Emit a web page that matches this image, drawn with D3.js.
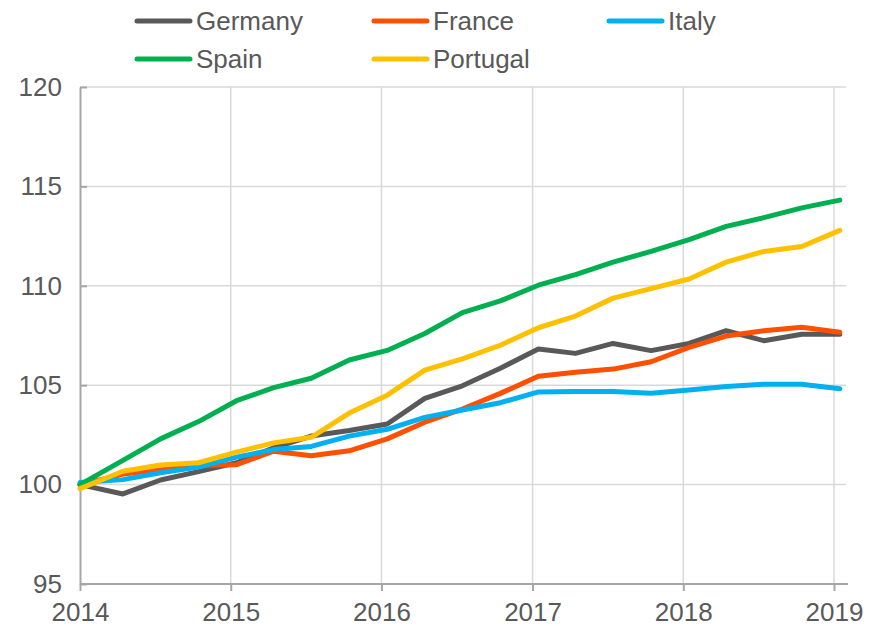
<!DOCTYPE html>
<html><head><meta charset="utf-8">
<script src="https://cdn.jsdelivr.net/npm/d3@7"></script>
<style>
html,body{margin:0;padding:0;background:#fff;}
svg{display:block;font-family:"Liberation Sans",Arial,sans-serif;}
</style></head>
<body><svg id="c" width="873" height="626"></svg>
<script>
// ---- data ----
const dates = ["2014-01-01","2014-04-15","2014-07-15","2014-10-15",
  "2015-01-15","2015-04-15","2015-07-15","2015-10-15",
  "2016-01-15","2016-04-15","2016-07-15","2016-10-15",
  "2017-01-15","2017-04-15","2017-07-15","2017-10-15",
  "2018-01-15","2018-04-15","2018-07-15","2018-10-15","2019-01-15"];
const germany  = [100.0, 99.53,100.23,100.65,101.10,101.85,102.44,102.72,103.05,104.34,104.97,105.85,106.82,106.60,107.10,106.74,107.10,107.74,107.24,107.56,107.56];
const france   = [100.0,100.53,100.73,100.97,101.00,101.68,101.45,101.70,102.30,103.14,103.80,104.59,105.45,105.65,105.81,106.18,106.90,107.47,107.74,107.91,107.66];
const italy    = [100.1,100.25,100.60,100.88,101.38,101.76,101.92,102.44,102.78,103.38,103.75,104.12,104.66,104.68,104.68,104.60,104.76,104.94,105.05,105.05,104.82];
const spain    = [100.0,101.22,102.30,103.17,104.22,104.88,105.35,106.27,106.75,107.60,108.65,109.24,110.03,110.56,111.19,111.73,112.32,112.99,113.43,113.92,114.31];
const portugal = [ 99.8,100.67,100.99,101.10,101.63,102.10,102.38,103.60,104.50,105.76,106.32,107.01,107.89,108.48,109.38,109.86,110.34,111.19,111.73,111.98,112.79];
const seriesNames = ["Germany","France","Italy","Spain","Portugal"];
const seriesValues = [germany, france, italy, spain, portugal];
const seriesColors = ["#595959","#FF4F00","#00B0F0","#00B050","#FFC000"];
const yTicks = [95,100,105,110,115,120];
const xTickYears = [2014,2015,2016,2017,2018,2019];

// ---- chart ----
const svg = d3.select("#c");
const parse = d3.timeParse("%Y-%m-%d");
const x = d3.scaleTime().domain([new Date(2014,0,1), new Date(2019,0,1)]).range([80, 834]);
const y = d3.scaleLinear().domain([95,120]).range([584, 87]);
const xTickDates = xTickYears.map(yr => new Date(yr,0,1));

// gridlines
svg.append("g").selectAll("line").data(yTicks.filter(t=>t!==95)).join("line")
  .attr("x1",80).attr("x2",846).attr("y1",d=>y(d)).attr("y2",d=>y(d))
  .attr("stroke","#D9D9D9").attr("stroke-width",1.5);
svg.append("g").selectAll("line").data(xTickDates.slice(1)).join("line")
  .attr("x1",d=>x(d)).attr("x2",d=>x(d)).attr("y1",87).attr("y2",584)
  .attr("stroke","#D9D9D9").attr("stroke-width",1.5);

// y axis
const yAxis = svg.append("g").attr("transform","translate(80,0)")
  .call(d3.axisLeft(y).tickValues(yTicks).tickSizeInner(-7).tickSizeOuter(0).tickPadding(18).tickFormat(d3.format("d")));
yAxis.select(".domain").attr("stroke","#A6A6A6").attr("stroke-width",2);
yAxis.selectAll(".tick line").attr("stroke","#A6A6A6").attr("stroke-width",2);
yAxis.selectAll("text").attr("fill","#595959").attr("font-size",26)
  .attr("font-family","Liberation Sans, Arial, sans-serif");

// x axis
const xAxis = svg.append("g").attr("transform","translate(0,584)")
  .call(d3.axisBottom(x).tickValues(xTickDates).tickSizeInner(7).tickSizeOuter(0).tickPadding(12).tickFormat(d3.timeFormat("%Y")));
xAxis.select(".domain").remove();
xAxis.append("line").attr("x1",80).attr("x2",848).attr("y1",0).attr("y2",0)
  .attr("stroke","#A6A6A6").attr("stroke-width",2);
xAxis.selectAll(".tick line").attr("stroke","#A6A6A6").attr("stroke-width",2);
xAxis.selectAll("text").attr("fill","#595959").attr("font-size",26)
  .attr("font-family","Liberation Sans, Arial, sans-serif");

// lines
const line = d3.line().x((d,i)=>x(parse(dates[i]))).y(d=>y(d));
svg.append("g").selectAll("path").data(seriesValues).join("path")
  .attr("d", line)
  .attr("fill","none")
  .attr("stroke",(d,i)=>seriesColors[i])
  .attr("stroke-width",5)
  .attr("stroke-linejoin","round")
  .attr("stroke-linecap","round");

// legend
const legX = [137, 374, 609];
const legY = [21, 59];
const leg = svg.append("g").selectAll("g").data(seriesNames).join("g")
  .attr("transform",(d,i)=>`translate(${legX[i%3]},${legY[Math.floor(i/3)]})`);
leg.append("line").attr("x1",0).attr("x2",53).attr("y1",0).attr("y2",0)
  .attr("stroke",(d,i)=>seriesColors[i]).attr("stroke-width",5).attr("stroke-linecap","round");
leg.append("text").attr("x",59).attr("y",0).attr("dy","0.35em")
  .attr("font-size",26).attr("fill","#595959").text(d=>d);
</script></body></html>
